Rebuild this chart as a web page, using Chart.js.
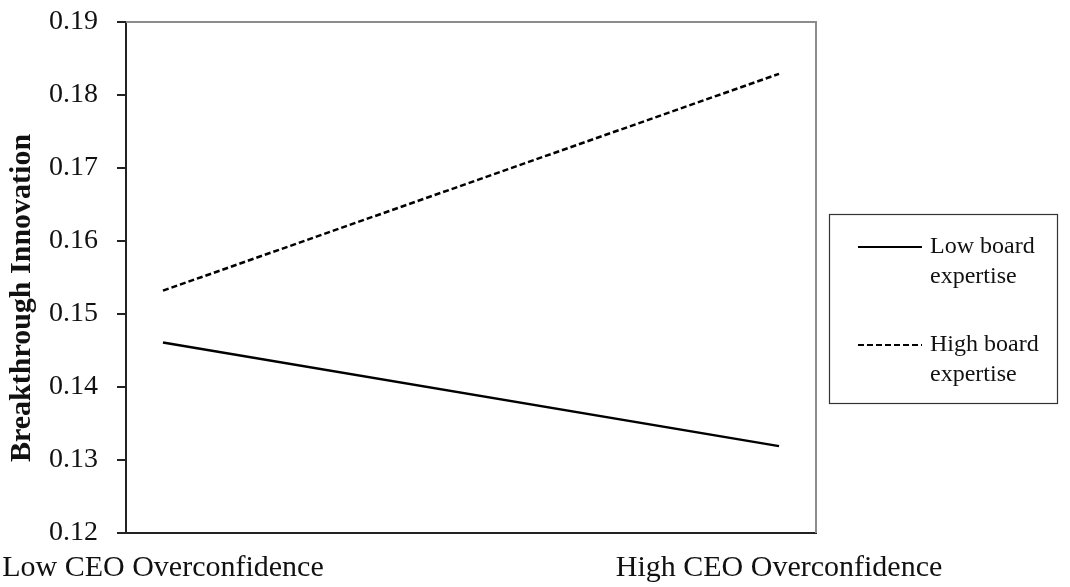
<!DOCTYPE html>
<html>
<head>
<meta charset="utf-8">
<script src="https://cdn.jsdelivr.net/npm/chart.js@4/dist/chart.umd.min.js"></script>
<style>
html,body{margin:0;padding:0;background:#fff;}
#wrap{position:relative;width:1070px;height:587px;}
</style>
</head>
<body>
<div id="wrap"><canvas id="c" width="1070" height="587"></canvas></div>
<script>
const categories = ["Low CEO Overconfidence", "High CEO Overconfidence"];
const categoryPositions = [0, 1];
const seriesNames = [["Low board", "expertise"], ["High board", "expertise"]];
const lowBoard = [0.1461, 0.1319];
const highBoard = [0.1532, 0.1829];
const yTicks = [0.12, 0.13, 0.14, 0.15, 0.16, 0.17, 0.18, 0.19];
const yTitle = "Breakthrough Innovation";

const FONT = "'Liberation Serif', 'Times New Roman', serif";

function pts(vals){ return vals.map((v,i)=>({x:categoryPositions[i], y:v})); }
function noPad(s){ s.paddingLeft = 0; s.paddingRight = 0; s.paddingTop = 0; s.paddingBottom = 0; }

const framePlugin = {
  id:'frame',
  afterDatasetsDraw(chart){
    const {ctx, chartArea:a} = chart;
    ctx.save();
    ctx.strokeStyle = '#8c8c8c';
    ctx.lineWidth = 2;
    ctx.beginPath();
    ctx.moveTo(a.left, a.top);
    ctx.lineTo(a.right, a.top);
    ctx.lineTo(a.right, a.bottom);
    ctx.stroke();
    ctx.restore();
  }
};

const yTitlePlugin = {
  id:'yTitle',
  afterDraw(chart){
    const ctx = chart.ctx;
    ctx.save();
    ctx.translate(22, 298);
    ctx.rotate(-Math.PI / 2);
    ctx.font = "bold 30px " + FONT;
    ctx.fillStyle = '#111';
    ctx.textAlign = 'center';
    ctx.textBaseline = 'middle';
    ctx.fillText(yTitle, 0, 0);
    ctx.restore();
  }
};

const legendPlugin = {
  id:'boxLegend',
  afterDraw(chart){
    const ctx = chart.ctx;
    ctx.save();
    ctx.strokeStyle = '#333';
    ctx.lineWidth = 1.2;
    ctx.strokeRect(829.5, 214.5, 228, 189);
    ctx.font = "24px " + FONT;
    ctx.fillStyle = '#111';
    ctx.textBaseline = 'middle';
    const rows = [247, 345];
    chart.data.datasets.forEach((ds, i) => {
      const y = rows[i];
      ctx.strokeStyle = '#000';
      ctx.lineWidth = 2;
      ctx.setLineDash(i === 0 ? [] : [6, 3]);
      ctx.beginPath();
      ctx.moveTo(858, y);
      ctx.lineTo(922, y);
      ctx.stroke();
      ctx.setLineDash([]);
      ds.legendLines.forEach((t, j) => ctx.fillText(t, 930, y + j * 30));
    });
    ctx.restore();
  }
};

new Chart(document.getElementById('c'), {
  type: 'line',
  data: {
    datasets: [
      { label: seriesNames[0].join(' '), legendLines: seriesNames[0], data: pts(lowBoard),
        borderColor: '#000', borderWidth: 2.5, pointRadius: 0, fill: false, tension: 0 },
      { label: seriesNames[1].join(' '), legendLines: seriesNames[1], data: pts(highBoard),
        borderColor: '#000', borderWidth: 2.5, borderDash: [6, 3], pointRadius: 0, fill: false, tension: 0 }
    ]
  },
  options: {
    responsive: false,
    animation: false,
    devicePixelRatio: 1,
    layout: { padding: { left: 0, right: 254, top: 22, bottom: 0 } },
    plugins: { legend: { display: false }, tooltip: { enabled: false } },
    scales: {
      x: {
        type: 'linear',
        min: -0.06, max: 1.06,
        afterBuildTicks(s){ s.ticks = categoryPositions.map(v => ({value: v})); },
        afterFit(s){ s.height = 54; noPad(s); },
        grid: { display: true, drawOnChartArea: false, drawTicks: false },
        border: { display: true, color: '#222', width: 2 },
        ticks: {
          callback: (v) => categories[categoryPositions.indexOf(v)] ?? '',
          font: { family: FONT, size: 30 }, color: '#111', padding: 17, maxRotation: 0, autoSkip: false
        }
      },
      y: {
        min: 0.12, max: 0.19,
        afterBuildTicks(s){ s.ticks = yTicks.map(v => ({value: v})); },
        afterFit(s){ s.width = 126; noPad(s); },
        grid: { display: true, drawOnChartArea: false, drawTicks: true, tickLength: 9, color: '#222', lineWidth: 2 },
        border: { display: true, color: '#222', width: 2 },
        ticks: {
          callback: (v) => v.toFixed(2),
          font: { family: FONT, size: 28 }, color: '#111', padding: 19
        },
        title: { display: false }
      }
    }
  },
  plugins: [framePlugin, yTitlePlugin, legendPlugin]
});
</script>
</body>
</html>
